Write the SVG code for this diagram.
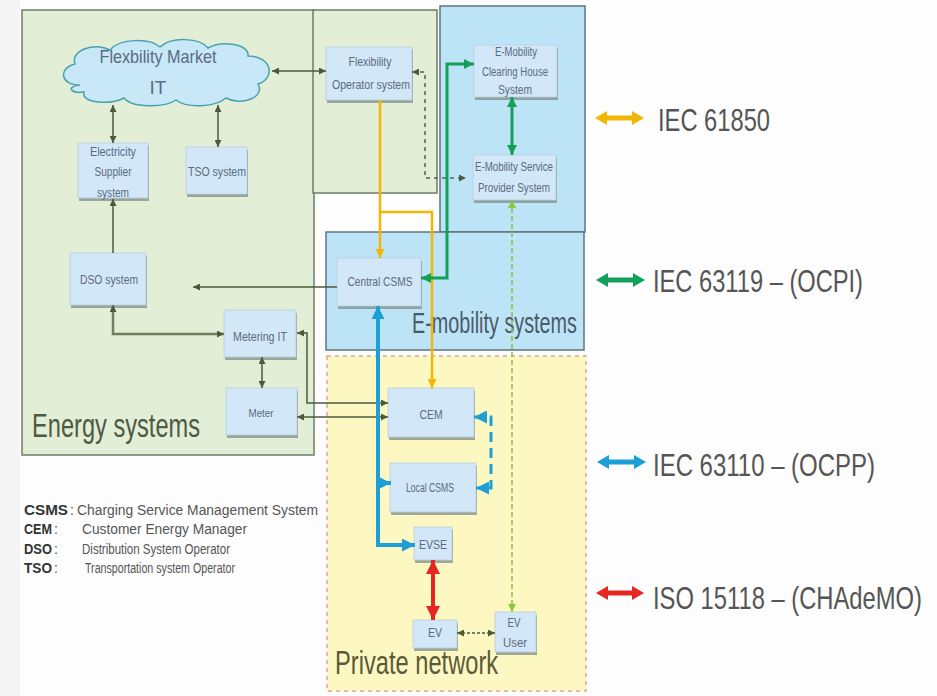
<svg xmlns="http://www.w3.org/2000/svg" width="937" height="696" viewBox="0 0 937 696">
<style>
text{font-family:"Liberation Sans",Arial,sans-serif}
.pg{fill:#e2eed6;stroke:#6f7c66;stroke-width:1.5}
.pb{fill:#bde4f6;stroke:#5d7482;stroke-width:1.5}
.py{fill:#fdf8c2;stroke:#e6a38e;stroke-width:1.5;stroke-dasharray:4 4}
.sh{fill:#7f8c86;opacity:.75}
.nd{fill:#d2e7f7;stroke:#b7d0e2;stroke-width:.8}
.nt{font-size:12px;fill:#5b6b82;text-anchor:middle}
.lg{font-size:32px;fill:#555}
.ab{font-size:14px;font-weight:bold;fill:#333}
.df{font-size:14px;fill:#555}
.dk{fill:none;stroke:#4b5a3a;stroke-width:1.5}
.yl{fill:none;stroke:#f2b705;stroke-width:2.5}
.gr{fill:none;stroke:#15a05a;stroke-width:3}
.lgr{fill:none;stroke:#8dc63f;stroke-width:1.6;stroke-dasharray:5 3}
.bl{fill:none;stroke:#1b9fd6;stroke-width:4}
.rd{fill:none;stroke:#e52620;stroke-width:4}
</style>
<defs>
<marker id="mD" viewBox="0 0 8 8" refX="8" refY="4" markerWidth="7" markerHeight="7" markerUnits="userSpaceOnUse" orient="auto-start-reverse"><path d="M0,0L8,4L0,8z" fill="#4b5a3a"/></marker>
<marker id="mY" viewBox="0 0 8 8" refX="8" refY="4" markerWidth="9" markerHeight="9" markerUnits="userSpaceOnUse" orient="auto-start-reverse"><path d="M0,0L8,4L0,8z" fill="#f2b705"/></marker>
<marker id="mG" viewBox="0 0 8 8" refX="8" refY="4" markerWidth="10" markerHeight="10" markerUnits="userSpaceOnUse" orient="auto-start-reverse"><path d="M0,0L8,4L0,8z" fill="#15a05a"/></marker>
<marker id="mL" viewBox="0 0 8 8" refX="8" refY="4" markerWidth="8" markerHeight="8" markerUnits="userSpaceOnUse" orient="auto-start-reverse"><path d="M0,0L8,4L0,8z" fill="#8dc63f"/></marker>
<marker id="mB" viewBox="0 0 8 8" refX="8" refY="4" markerWidth="13" markerHeight="13" markerUnits="userSpaceOnUse" orient="auto-start-reverse"><path d="M0,0L8,4L0,8z" fill="#1b9fd6"/></marker>
<marker id="mR" viewBox="0 0 8 8" refX="8" refY="4" markerWidth="14" markerHeight="14" markerUnits="userSpaceOnUse" orient="auto-start-reverse"><path d="M0,0L8,4L0,8z" fill="#e52620"/></marker>
</defs>
<rect width="937" height="696" fill="#fdfdfd"/>
<rect width="20" height="696" fill="#f4f5f4"/>

<g id="panels">
<rect id="energy-panel" class="pg" x="22" y="10" width="292" height="445"/>
<rect id="flexop-panel" class="pg" x="313" y="10" width="124" height="183"/>
<rect id="emob-top-panel" class="pb" x="440" y="6" width="145" height="226" stroke="#6f8a96"/>
<rect id="emob-panel" class="pb" x="326" y="232" width="258" height="118"/>
<rect id="private-panel" class="py" x="327" y="356" width="259" height="335"/>
<text transform="translate(32,437) scale(0.7,1)" style="font-size:34px" textLength="240" lengthAdjust="spacingAndGlyphs" fill="#4d5a45">Energy systems</text>
<text transform="translate(412,333) scale(0.68,1)" style="font-size:29px" textLength="242.6" lengthAdjust="spacingAndGlyphs" fill="#4a5a6a">E-mobility systems</text>
<text transform="translate(335,674) scale(0.7,1)" style="font-size:34px" textLength="233" lengthAdjust="spacingAndGlyphs" fill="#5a5a3a">Private network</text>
</g>

<g id="cloud">
<path d="M80,85C60,85 58,68 75,64C70,50 95,42 110,50C120,38 150,38 160,47C172,36 200,38 208,48C222,40 250,44 248,56C272,56 276,78 258,84C266,98 240,106 226,98C214,108 186,108 176,100C164,108 132,108 124,98C108,106 80,102 84,92C70,94 66,86 80,85Z" fill="#c8e8f8" stroke="#4aa0b0" stroke-width="1.5"/>
<text x="158" y="63" style="font-size:19px" fill="#5b6b82" text-anchor="middle" textLength="117" lengthAdjust="spacingAndGlyphs">Flexbility Market</text>
<text x="158" y="94" style="font-size:19px" fill="#5b6b82" text-anchor="middle">IT</text>
</g>

<g id="node-electricity-supplier">
<rect class="sh" x="79" y="146" width="70" height="55"/><rect class="nd" x="78" y="143" width="70" height="55"/>
<text class="nt" x="113" y="156" textLength="46" lengthAdjust="spacingAndGlyphs">Electricity</text>
<text class="nt" x="113" y="176" textLength="37" lengthAdjust="spacingAndGlyphs">Supplier</text>
<text class="nt" x="113" y="197" textLength="32" lengthAdjust="spacingAndGlyphs">system</text>
</g>
<g id="node-tso">
<rect class="sh" x="187" y="150" width="61" height="47"/><rect class="nd" x="186" y="147" width="61" height="47"/>
<text class="nt" x="217" y="176" textLength="58" lengthAdjust="spacingAndGlyphs">TSO system</text>
</g>
<g id="node-flexop">
<rect class="sh" x="327" y="50" width="86" height="53"/><rect class="nd" x="326" y="47" width="86" height="53"/>
<text class="nt" x="370" y="66" textLength="43" lengthAdjust="spacingAndGlyphs">Flexibility</text>
<text class="nt" x="371" y="89" textLength="78" lengthAdjust="spacingAndGlyphs">Operator system</text>
</g>
<g id="node-clearing-house">
<rect class="sh" x="475" y="48" width="83" height="52"/><rect class="nd" x="474" y="45" width="83" height="52"/>
<text class="nt" x="516" y="56" textLength="42" lengthAdjust="spacingAndGlyphs">E-Mobility</text>
<text class="nt" x="515" y="76" textLength="66" lengthAdjust="spacingAndGlyphs">Clearing House</text>
<text class="nt" x="515" y="94" textLength="34" lengthAdjust="spacingAndGlyphs">System</text>
</g>
<g id="node-esp">
<rect class="sh" x="474" y="158" width="83" height="45"/><rect class="nd" x="473" y="155" width="83" height="45"/>
<text class="nt" x="514" y="171" textLength="78" lengthAdjust="spacingAndGlyphs">E-Mobility Service</text>
<text class="nt" x="514" y="192" textLength="72" lengthAdjust="spacingAndGlyphs">Provider System</text>
</g>
<g id="node-dso">
<rect class="sh" x="71" y="256" width="76" height="52"/><rect class="nd" x="70" y="253" width="76" height="52"/>
<text class="nt" x="109" y="284" textLength="58" lengthAdjust="spacingAndGlyphs">DSO system</text>
</g>
<g id="node-metering-it">
<rect class="sh" x="225" y="313" width="72" height="47"/><rect class="nd" x="224" y="310" width="72" height="47"/>
<text class="nt" x="260" y="341" textLength="54" lengthAdjust="spacingAndGlyphs">Metering IT</text>
</g>
<g id="node-meter">
<rect class="sh" x="227" y="391" width="71" height="47"/><rect class="nd" x="226" y="388" width="71" height="47"/>
<text class="nt" x="261" y="417" style="font-size:10px" textLength="25" lengthAdjust="spacingAndGlyphs">Meter</text>
</g>
<g id="node-central-csms">
<rect class="sh" x="338" y="261" width="84" height="48"/><rect class="nd" x="337" y="258" width="84" height="48"/>
<text class="nt" x="380" y="286" textLength="65" lengthAdjust="spacingAndGlyphs">Central CSMS</text>
</g>
<g id="node-cem">
<rect class="sh" x="389" y="391" width="86" height="49"/><rect class="nd" x="388" y="388" width="86" height="49"/>
<text class="nt" x="431" y="419" textLength="23" lengthAdjust="spacingAndGlyphs">CEM</text>
</g>
<g id="node-local-csms">
<rect class="sh" x="391" y="466" width="86" height="49"/><rect class="nd" x="390" y="463" width="86" height="49"/>
<text class="nt" x="430" y="492" textLength="48" lengthAdjust="spacingAndGlyphs">Local CSMS</text>
</g>
<g id="node-evse">
<rect class="sh" x="415" y="530" width="38" height="33"/><rect class="nd" x="414" y="527" width="38" height="33"/>
<text class="nt" x="433" y="549" textLength="28" lengthAdjust="spacingAndGlyphs">EVSE</text>
</g>
<g id="node-ev">
<rect class="sh" x="414" y="623" width="44" height="28"/><rect class="nd" x="413" y="620" width="44" height="28"/>
<text class="nt" x="435" y="637" textLength="14" lengthAdjust="spacingAndGlyphs">EV</text>
</g>
<g id="node-ev-user">
<rect class="sh" x="496" y="615" width="41" height="40"/><rect class="nd" x="495" y="612" width="41" height="40"/>
<text class="nt" x="514" y="627" textLength="13" lengthAdjust="spacingAndGlyphs">EV</text>
<text class="nt" x="515" y="647" textLength="24" lengthAdjust="spacingAndGlyphs">User</text>
</g>

<g id="connectors">
<path class="dk" d="M272,71H326" marker-start="url(#mD)" marker-end="url(#mD)"/>
<path class="dk" d="M113,105V143" marker-start="url(#mD)" marker-end="url(#mD)"/>
<path class="dk" d="M218,105V147" marker-start="url(#mD)" marker-end="url(#mD)"/>
<path class="dk" d="M113,253V199" marker-end="url(#mD)"/>
<path class="dk" d="M113,305V334H224" style="stroke:#6f8060;stroke-width:2.5" marker-start="url(#mD)" marker-end="url(#mD)"/>
<path class="dk" d="M337,287H193" marker-end="url(#mD)"/>
<path class="dk" d="M262,357V388" marker-start="url(#mD)" marker-end="url(#mD)"/>
<path class="dk" d="M297,333H307V403H388" marker-start="url(#mD)" marker-end="url(#mD)"/>
<path class="dk" d="M297,417H388" marker-start="url(#mD)" marker-end="url(#mD)"/>
<path class="dk" d="M412,72H425V178H466" style="stroke-dasharray:4 4;stroke:#55664a" marker-start="url(#mD)" marker-end="url(#mD)"/>
<path class="dk" d="M457,633H495" style="stroke-dasharray:3 2" marker-start="url(#mD)" marker-end="url(#mD)"/>
<path class="yl" d="M380,100V258" marker-end="url(#mY)"/>
<path class="yl" d="M380,212H432V388" marker-end="url(#mY)"/>
<path class="gr" d="M421,278H447V64H474" marker-start="url(#mG)" marker-end="url(#mG)"/>
<path class="gr" d="M512,97V155" marker-start="url(#mG)" marker-end="url(#mG)"/>
<path class="lgr" d="M512,200V612" marker-start="url(#mL)" marker-end="url(#mL)"/>
<path class="bl" d="M378,306V545H415" marker-start="url(#mB)" marker-end="url(#mB)"/>
<path class="bl" d="M378,483H391" marker-end="url(#mB)"/>
<path class="bl" d="M474,417H491V488H476" style="stroke-width:3;stroke-dasharray:10 6" marker-start="url(#mB)" marker-end="url(#mB)"/>
<path class="rd" d="M433,560V620" marker-start="url(#mR)" marker-end="url(#mR)"/>
</g>

<g id="legend-protocols">
<polygon points="595,118 607,111 607,125" fill="#f2b705"/><polygon points="644,118 632,111 632,125" fill="#f2b705"/>
<path d="M605,118H634" stroke="#f2b705" stroke-width="5"/>
<text class="lg" transform="translate(658,131) scale(0.74,1)" textLength="151.4" lengthAdjust="spacingAndGlyphs">IEC 61850</text>
<polygon points="596,280 608,273 608,287" fill="#15a05a"/><polygon points="645,280 633,273 633,287" fill="#15a05a"/>
<path d="M606,280H635" stroke="#15a05a" stroke-width="5"/>
<text class="lg" transform="translate(653,292) scale(0.74,1)" textLength="283.8" lengthAdjust="spacingAndGlyphs">IEC 63119 – (OCPI)</text>
<polygon points="597,462 609,455 609,469" fill="#1b9fd6"/><polygon points="646,462 634,455 634,469" fill="#1b9fd6"/>
<path d="M607,462H636" stroke="#1b9fd6" stroke-width="5"/>
<text class="lg" transform="translate(653,476) scale(0.74,1)" textLength="300" lengthAdjust="spacingAndGlyphs">IEC 63110 – (OCPP)</text>
<polygon points="596,593 608,586 608,600" fill="#e52620"/><polygon points="644,593 632,586 632,600" fill="#e52620"/>
<path d="M606,593H634" stroke="#e52620" stroke-width="5"/>
<text class="lg" transform="translate(653,609) scale(0.74,1)" textLength="363.5" lengthAdjust="spacingAndGlyphs">ISO 15118 – (CHAdeMO)</text>
</g>

<g id="legend-abbrev">
<text class="ab" x="24" y="515" textLength="44" lengthAdjust="spacingAndGlyphs">CSMS</text><text class="df" x="70" y="515">:</text>
<text class="df" x="77" y="515" textLength="241" lengthAdjust="spacingAndGlyphs">Charging Service Management System</text>
<text class="ab" x="24" y="534" textLength="28" lengthAdjust="spacingAndGlyphs">CEM</text><text class="df" x="54" y="534">:</text>
<text class="df" x="82" y="534" textLength="165" lengthAdjust="spacingAndGlyphs">Customer Energy Manager</text>
<text class="ab" x="24" y="554" textLength="28" lengthAdjust="spacingAndGlyphs">DSO</text><text class="df" x="54" y="554">:</text>
<text class="df" x="82" y="554" textLength="148" lengthAdjust="spacingAndGlyphs">Distribution System Operator</text>
<text class="ab" x="24" y="573" textLength="28" lengthAdjust="spacingAndGlyphs">TSO</text><text class="df" x="54" y="573">:</text>
<text class="df" x="85" y="573" textLength="150" lengthAdjust="spacingAndGlyphs">Transportation system Operator</text>
</g>
</svg>
